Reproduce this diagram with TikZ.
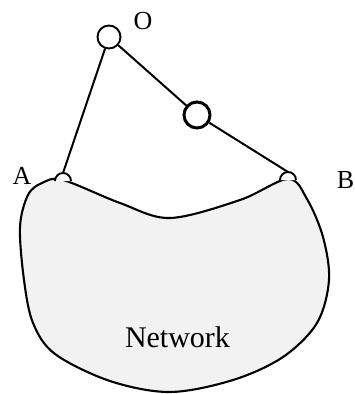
\documentclass[tikz,border=0pt]{standalone}
\usepackage{fontspec}
\setmainfont{Liberation Serif}
\begin{document}
\begin{tikzpicture}[x=1pt,y=-1pt,
  lbl/.style={font=\fontsize{26}{30}\selectfont},
  vnode/.style={circle,draw,fill=white,line width=1.9pt,minimum size=23pt,inner sep=0pt},
  bignode/.style={circle,draw,fill=white,line width=3pt,minimum size=26pt,inner sep=0pt},
  edge/.style={line width=2pt}]
\useasboundingbox (0,0) rectangle (355,394);
% network blob
\draw[line width=2.1pt,fill=black!5] plot[smooth cycle,tension=0.55] coordinates{
 (63,180) (120,203) (170,218) (240,200) (288,179) (307,199) (323,237) (329,280)
 (317,323) (283,357) (233,380) (170,392) (110,381) (55,354) (33,323) (24,280)
 (20,227) (28,195) (42,183)};
% half circles
\draw[line width=1.9pt,fill=white] (55,181) arc[start angle=180,end angle=0,radius=8pt];
\draw[line width=1.9pt,fill=white] (280,180) arc[start angle=180,end angle=0,radius=8pt];
\coordinate (Atop) at (63,173);
\coordinate (Btop) at (288,172);
\node[vnode] (O) at (109,37) {};
\node[bignode] (M) at (197,115) {};
\draw[edge] (O) -- (Atop);
\draw[edge] (O) -- (M);
\draw[edge] (M) -- (Btop);
\node[lbl] (lO) at (143,21) {O};
\node[lbl] (lA) at (22,176) {A};
\node[lbl] (lB) at (345.5,180) {B};
\node[font=\fontsize{30}{36}\selectfont] (net) at (177.5,337) {Network};
\end{tikzpicture}
\end{document}
